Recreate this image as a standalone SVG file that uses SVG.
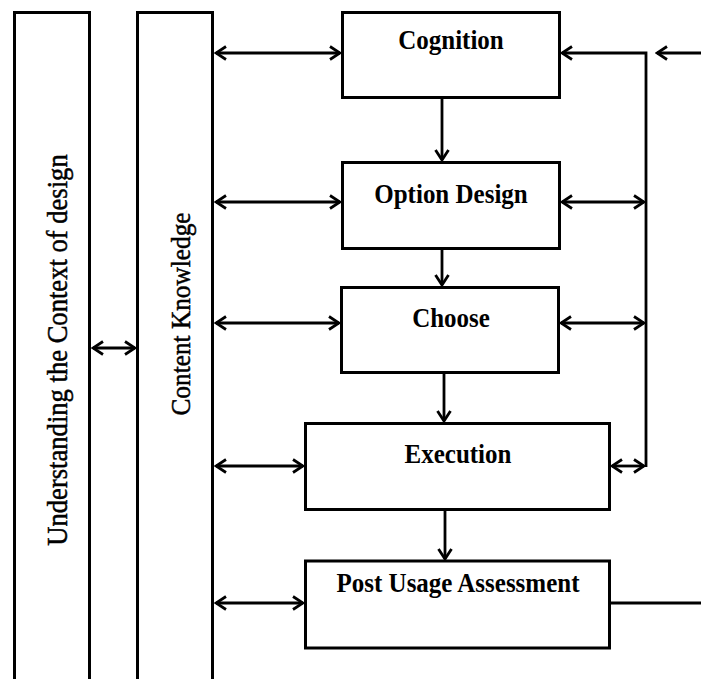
<svg xmlns="http://www.w3.org/2000/svg" width="701" height="679" viewBox="0 0 701 679">
<style>
.box{fill:#fff;stroke:#000;stroke-width:3}
.lbl{font-family:"Liberation Serif","Times New Roman",serif;font-weight:bold;font-size:25px;fill:#000;text-anchor:middle}
.vt{font-family:"Liberation Serif","Times New Roman",serif;font-size:26px;fill:#000;stroke:#000;stroke-width:0.45;text-anchor:middle}
.ln{fill:none;stroke:#000;stroke-width:2.8}
</style>
<defs>
<marker id="ah" viewBox="-13 -8 15 16" refX="0" refY="0" markerWidth="15" markerHeight="16" markerUnits="userSpaceOnUse" orient="auto-start-reverse">
<path d="M-10,-6.5 L0,0 L-10,6.5" fill="none" stroke="#000" stroke-width="2.8"/>
</marker>
</defs>
<rect width="701" height="679" fill="#fff"/>
<g id="context">
<rect class="box" x="14.5" y="12.5" width="75" height="700"/>
<text class="vt" transform="translate(67,350) rotate(-90) scale(1,1.08)" style="font-size:26.6px">Understanding the Context of design</text>
</g>
<g id="content">
<rect class="box" x="137.5" y="12.5" width="75" height="700"/>
<text class="vt" transform="translate(190,314) rotate(-90) scale(1,1.08)" style="font-size:25.3px">Content Knowledge</text>
</g>
<g id="cognition">
<rect class="box" x="342.5" y="12.5" width="217" height="85"/>
<text class="lbl" transform="translate(451,49) scale(1,1.1)">Cognition</text>
</g>
<g id="option-design">
<rect class="box" x="342.5" y="162.5" width="217" height="86"/>
<text class="lbl" transform="translate(451,203) scale(1,1.1)">Option Design</text>
</g>
<g id="choose">
<rect class="box" x="341.5" y="287.5" width="217" height="85"/>
<text class="lbl" transform="translate(451,327) scale(1,1.1)">Choose</text>
</g>
<g id="execution">
<rect class="box" x="305.5" y="423.5" width="304" height="86"/>
<text class="lbl" transform="translate(458,463) scale(1,1.1)">Execution</text>
</g>
<g id="post-usage">
<rect class="box" x="305.5" y="561" width="304" height="87"/>
<text class="lbl" transform="translate(458,592) scale(1,1.1)">Post Usage Assessment</text>
</g>
<g id="connectors">
<line class="ln" x1="93" y1="348" x2="135" y2="348" marker-start="url(#ah)" marker-end="url(#ah)"/>
<line class="ln" x1="216" y1="53" x2="340" y2="53" marker-start="url(#ah)" marker-end="url(#ah)"/>
<line class="ln" x1="216" y1="202" x2="340" y2="202" marker-start="url(#ah)" marker-end="url(#ah)"/>
<line class="ln" x1="216" y1="323" x2="339" y2="323" marker-start="url(#ah)" marker-end="url(#ah)"/>
<line class="ln" x1="216" y1="466" x2="303" y2="466" marker-start="url(#ah)" marker-end="url(#ah)"/>
<line class="ln" x1="216" y1="603" x2="303" y2="603" marker-start="url(#ah)" marker-end="url(#ah)"/>
<line class="ln" x1="442" y1="99" x2="442" y2="160" marker-end="url(#ah)"/>
<line class="ln" x1="442" y1="250" x2="442" y2="285" marker-end="url(#ah)"/>
<line class="ln" x1="444" y1="374" x2="444" y2="421" marker-end="url(#ah)"/>
<line class="ln" x1="445" y1="511" x2="445" y2="559" marker-end="url(#ah)"/>
<polyline class="ln" points="646,467 646,53 562,53" marker-end="url(#ah)"/>
<line class="ln" x1="562" y1="202" x2="644" y2="202" marker-start="url(#ah)" marker-end="url(#ah)"/>
<line class="ln" x1="561" y1="323" x2="644" y2="323" marker-start="url(#ah)" marker-end="url(#ah)"/>
<line class="ln" x1="612" y1="466" x2="644" y2="466" marker-start="url(#ah)" marker-end="url(#ah)"/>
<line class="ln" x1="701" y1="53" x2="657" y2="53" marker-end="url(#ah)"/>
<line class="ln" x1="611" y1="603" x2="701" y2="603"/>
</g>
</svg>
